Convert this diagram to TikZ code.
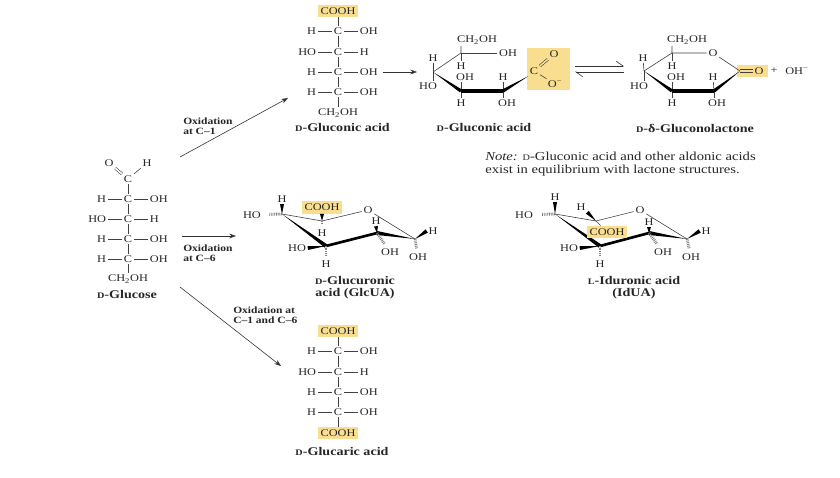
\documentclass[tikz,border=0pt]{standalone}
\usepackage{fontspec}
\setmainfont[FakeStretch=1.2]{Liberation Serif}
\usetikzlibrary{arrows.meta,calc}

\definecolor{hlyellow}{RGB}{249,222,143}
\tikzset{
  atom/.style={inner sep=1.2pt,font=\fontsize{7.7}{9}\selectfont,text=black!85},
  caption/.style={inner sep=0.75pt,font=\fontsize{8.8}{9}\selectfont\bfseries,align=center,text=black!85},
  oxlabel/.style={inner sep=0.75pt,font=\fontsize{7.2}{7.5}\selectfont\bfseries,align=left,anchor=west,text=black!85},
  notetext/.style={inner sep=0.75pt,font=\fontsize{9.15}{9.2}\selectfont,align=left,anchor=west,text=black!85},
  hlbox/.style={fill=hlyellow,inner sep=0pt},
  bond/.style={line width=0.45pt,black!75},
  hashb/.style={line width=2.2pt,black!50,dash pattern=on 0.6pt off 0.7pt,shorten >=2.5pt},
  rxn/.style={line width=0.45pt,black!80,-{Stealth[length=5pt,width=3.6pt]}},
  eqarrow/.style={line width=0.45pt,black!80,-{Straight Barb[left,length=5pt,width=7pt]}}
}
% small capital letter of the captions
\newcommand{\smc}[1]{{\fontsize{6.4}{7}\selectfont #1}}
% tapered bond, point at #1, broad end at #2, half width #3
\newcommand{\wedgebond}[3]{\fill[black] ($(#2)!#3!90:(#1)$) -- (#1) -- ($(#2)!#3!-90:(#1)$) -- cycle;}
% one row of a chain: name, x, y, left text, right text
\newcommand{\chainrow}[5]{
  \node[atom] (#1) at (#2,#3) {C};
  \node[atom,anchor=east] (#1l) at ({#2-20},#3) {#4};
  \node[atom,anchor=west] (#1r) at ({#2+20},#3) {#5};
  \draw[bond] (#1l) -- (#1) -- (#1r);
}

\begin{document}
\begin{tikzpicture}[x=0.75pt,y=0.75pt,yscale=-1,xscale=1]
\useasboundingbox (0,0) rectangle (840,478);

% D-Glucose
\node[atom] (gO) at (109,163) {O};
\node[atom] (gH) at (147,163) {H};
\node[atom] (gC) at (128,179) {C};
\chainrow{ga}{128}{199}{H}{OH}
\chainrow{gb}{128}{219}{HO}{H}
\chainrow{gc}{128}{239}{H}{OH}
\chainrow{gd}{128}{259}{H}{OH}
\node[atom] (ge) at (128,279) {CH\textsubscript{2}OH};
\draw[bond,double,double distance=1.2pt] (gO) -- (gC);
\draw[bond] (gH) -- (gC);
\draw[bond] (gC) -- (ga) -- (gb) -- (gc) -- (gd) -- (ge);
\node[caption] (gname) at (127,295) {\smc{D}-Glucose};

% D-Gluconic acid, open chain
\node[atom,fill=hlyellow,inner sep=2pt] (ta) at (338,11) {COOH};
\chainrow{tb}{338}{31}{H}{OH}
\chainrow{tc}{338}{52}{HO}{H}
\chainrow{td}{338}{72}{H}{OH}
\chainrow{te}{338}{92}{H}{OH}
\node[atom] (tf) at (338,113) {CH\textsubscript{2}OH};
\draw[bond] (ta) -- (tb) -- (tc) -- (td) -- (te) -- (tf);
\node[caption] (tname) at (342.5,128) {\smc{D}-Gluconic acid};

% D-Glucaric acid
\node[atom,fill=hlyellow,inner sep=2pt] (ba) at (338,331) {COOH};
\chainrow{bb}{338}{351}{H}{OH}
\chainrow{bc}{338}{372}{HO}{H}
\chainrow{bd}{338}{392}{H}{OH}
\chainrow{be}{338}{412}{H}{OH}
\node[atom,fill=hlyellow,inner sep=2pt] (bf) at (338,433) {COOH};
\draw[bond] (ba) -- (bb) -- (bc) -- (bd) -- (be) -- (bf);
\node[caption] (bname) at (342,451) {\smc{D}-Glucaric acid};

% Oxidation arrows
\coordinate (ox1s) at (180,157);
\coordinate (ox1e) at (288,98);
\coordinate (ox6s) at (182,236);
\coordinate (ox6e) at (236,236);
\coordinate (oxbs) at (180,287);
\coordinate (oxbe) at (281,366);
\draw[rxn] (ox1s) -- (ox1e);
\draw[rxn] (ox6s) -- (ox6e);
\draw[rxn] (oxbs) -- (oxbe);
\node[oxlabel] (ox1t) at (182,126) {Oxidation\\at C–1};
\node[oxlabel] (ox6t) at (182,253) {Oxidation\\at C–6};
\node[oxlabel] (oxbt) at (232,315) {Oxidation at\\C–1 and C–6};

% Open chain to ring
\coordinate (ringa) at (383,72);
\coordinate (ringb) at (417,72);
\draw[rxn] (ringa) -- (ringb);

% Gluconic acid ring
\node[hlbox,minimum width=32.2pt,minimum height=31.5pt] (abox) at (548.5,69) {};
\coordinate (at) at (461,53);
\coordinate (al) at (433,72);
\coordinate (am) at (461,91);
\coordinate (an) at (503,91);
\node[atom] (ac) at (534,71) {C};
\node[atom] (a1) at (477,40) {CH\textsubscript{2}OH};
\node[atom] (a2) at (508,53) {OH};
\node[atom] (a3) at (433,58) {H};
\node[atom] (a4) at (461,66) {H};
\node[atom] (a5) at (428,86) {HO};
\node[atom] (a6) at (465,77) {OH};
\node[atom] (a7) at (503,77) {H};
\node[atom] (a8) at (461,103) {H};
\node[atom] (a9) at (507,103) {OH};
\node[atom] (ao) at (554,54) {O};
\node[atom] (am2) at (555,84) {O\textsuperscript{−}};
\draw[bond] (al) -- (at) -- (at |- a1.south);
\draw[bond] (at) -- (a2);
\draw[bond] (at) -- (a4);
\draw[bond] (al) -- (a3);
\draw[bond] (al) -- (al |- a5.north);
\draw[bond] (am) -- (am |- a6.south);
\draw[bond] (am) -- (a8);
\draw[bond] (an) -- (a7);
\draw[bond] (an) -- (an |- a9.north);
\draw[bond,double=hlyellow,double distance=1.2pt] (ac) -- (ao);
\draw[bond] (ac) -- (am2);
\wedgebond{al}{am}{1.3pt}
\draw[line width=2.6pt,black] (am) -- (an);
\wedgebond{ac.south west}{an}{1.3pt}
\node[caption] (aname) at (484,128) {\smc{D}-Gluconic acid};

% Equilibrium
\coordinate (eqa) at (575,66);
\coordinate (eqb) at (624,66);
\coordinate (eqc) at (624,72);
\coordinate (eqd) at (575,72);
\draw[eqarrow] (eqa) -- (eqb);
\draw[eqarrow] (eqc) -- (eqd);

% Gluconolactone ring
\node[hlbox,minimum width=23.2pt,minimum height=9pt] (lbox) at (752.5,71) {};
\coordinate (lt) at (672,53);
\coordinate (ll) at (644,71);
\coordinate (lm) at (672,91);
\coordinate (ln) at (714,91);
\coordinate (lc) at (740,71);
\node[atom] (lr) at (713,53) {O};
\node[atom] (l1) at (687,40) {CH\textsubscript{2}OH};
\node[atom] (l3) at (643,58) {H};
\node[atom] (l4) at (672,66) {H};
\node[atom] (l5) at (639,86) {HO};
\node[atom] (l6) at (676,77) {OH};
\node[atom] (l7) at (713,77) {H};
\node[atom] (l8) at (672,103) {H};
\node[atom] (l9) at (717,103) {OH};
\node[atom] (lo) at (759,71) {O};
\node[atom] (lp) at (774,71) {+};
\node[atom] (lq) at (797,71) {OH\textsuperscript{−}};
\draw[bond] (ll) -- (lt) -- (lt |- l1.south);
\draw[bond] (lt) -- (lr) -- (lc);
\draw[bond] (lt) -- (l4);
\draw[bond] (ll) -- (l3);
\draw[bond] (ll) -- (ll |- l5.north);
\draw[bond] (lm) -- (lm |- l6.south);
\draw[bond] (lm) -- (l8);
\draw[bond] (ln) -- (l7);
\draw[bond] (ln) -- (ln |- l9.north);
\draw[bond,double=hlyellow,double distance=1.6pt] (lc) -- (lo);
\wedgebond{ll}{lm}{1.3pt}
\draw[line width=2.6pt,black] (lm) -- (ln);
\wedgebond{lc}{ln}{1.3pt}
\node[caption] (lname) at (695,128) {\smc{D}-δ-Gluconolactone};

% Note
\node[notetext] (note) at (484,164) {\textit{Note:} \smc{D}-Gluconic acid and other aldonic acids\\exist in equilibrium with lactone structures.};

% Glucuronic acid ring
\node[atom,fill=hlyellow,inner sep=2pt] (ua) at (322,207.5) {COOH};
\coordinate (ul) at (282,214);
\coordinate (um) at (326,246);
\coordinate (un) at (377,233);
\coordinate (uo) at (415,239);
\coordinate (up) at (322,221);
\node[atom] (ur) at (368,210) {O};
\node[atom] (u1) at (282,199) {H};
\node[atom] (u2) at (252,215) {HO};
\node[atom] (u3) at (322,233) {H};
\node[atom] (u4) at (297,248) {HO};
\node[atom] (u5) at (326,264) {H};
\node[atom] (u6) at (376,221) {H};
\node[atom] (u7) at (390,252) {OH};
\node[atom] (u8) at (433,231) {H};
\node[atom] (u9) at (418,257) {OH};
\draw[bond] (ul) -- (up) -- (ur) -- (uo);
\wedgebond{ul}{um}{1.5pt}
\wedgebond{uo}{un}{1.5pt}
\draw[line width=2pt,black,line cap=round] (um) -- (un);
\wedgebond{ul}{u1.south}{1.5pt}
\draw[hashb,shorten >=5pt] (ul) -- (u2);
\wedgebond{up}{ua.south}{1.5pt}
\draw[hashb] (up) -- (u3);
\wedgebond{um}{u4.east}{1.5pt}
\draw[hashb] (um) -- (u5);
\wedgebond{un}{u6.south}{1.5pt}
\draw[hashb] (un) -- (u7);
\wedgebond{uo}{u8.west}{1.5pt}
\draw[hashb] (uo) -- (u9);
\node[caption] (uname) at (355,288) {\smc{D}-Glucuronic\\acid (GlcUA)};

% Iduronic acid ring
\coordinate (il) at (555,214);
\coordinate (im) at (600,246);
\coordinate (in) at (649,233);
\coordinate (io) at (687,239);
\coordinate (ip) at (596,221);
\node[atom] (ir) at (640,210) {O};
\node[atom] (i1) at (555,197) {H};
\node[atom] (i2) at (524,215) {HO};
\node[atom] (i3) at (581,207) {H};
\node[atom] (i4) at (569,248) {HO};
\node[atom] (i5) at (600,264) {H};
\node[atom] (i6) at (649,222) {H};
\node[atom] (i7) at (663,252) {OH};
\node[atom] (i8) at (706,231) {H};
\node[atom] (i9) at (691,257) {OH};
\draw[bond] (il) -- (ip) -- (ir) -- (io);
\wedgebond{il}{im}{1.5pt}
\wedgebond{io}{in}{1.5pt}
\draw[line width=2pt,black,line cap=round] (im) -- (in);
\node[atom,fill=hlyellow,inner sep=2pt] (ia) at (607,232) {COOH};
\wedgebond{il}{i1.south}{1.5pt}
\draw[hashb,shorten >=5pt] (il) -- (i2);
\wedgebond{ip}{i3.south east}{1.5pt}
\draw[bond] (ip) -- (ia);
\wedgebond{im}{i4.east}{1.5pt}
\draw[hashb] (im) -- (i5);
\wedgebond{in}{i6.south}{1.5pt}
\draw[hashb] (in) -- (i7);
\wedgebond{io}{i8.west}{1.5pt}
\draw[hashb] (io) -- (i9);
\node[caption] (iname) at (634,288) {\smc{L}-Iduronic acid\\(IdUA)};

\end{tikzpicture}
\end{document}
